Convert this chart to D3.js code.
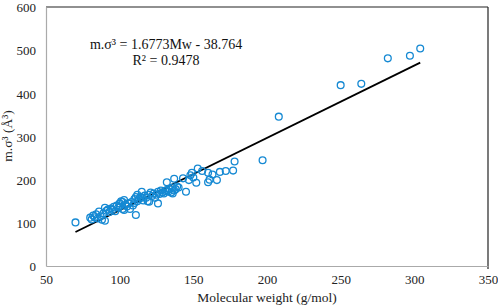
<!DOCTYPE html>
<html>
<head>
<meta charset="utf-8">
<script src="https://cdn.jsdelivr.net/npm/d3@7"></script>
<style>
  body { margin: 0; background: #fff; }
  svg { display: block; font-family: "Liberation Serif", "Times New Roman", serif; }
</style>
</head>
<body>
<svg id="chart" width="498" height="306"></svg>
<script>
// molecular weight (g/mol)
const mw = [
  70, 80, 81, 82, 83, 84, 85, 86, 87, 88, 89, 90, 90, 91, 92, 93, 94, 95, 96, 97,
  98, 99, 100, 100, 101, 102, 102, 103, 103, 104, 105, 106, 107, 108, 109, 110, 110, 111, 111, 112,
  112, 113, 114, 115, 115, 116, 117, 118, 119, 120, 120, 121, 122, 123, 124, 125, 126, 126, 127, 128,
  129, 130, 131, 132, 132, 133, 134, 135, 136, 136, 137, 137, 138, 139, 140, 143, 145, 147, 148, 149,
  150, 152, 153, 156, 160, 160, 161, 163, 166, 168, 172, 177, 178, 197, 208, 250, 264, 282, 297, 304
]
// m.sigma^3 (A^3)
const vol = [
  101, 112, 108, 117, 113, 120, 110, 126, 115, 107, 122, 135, 105, 128, 131, 125, 133, 130, 137, 127,
  140, 135, 145, 138, 150, 132, 148, 153, 130, 142, 138, 145, 132, 148, 140, 155, 146, 160, 118, 165,
  150, 155, 160, 172, 158, 152, 163, 158, 150, 165, 149, 170, 162, 168, 158, 165, 145, 172, 167, 175,
  170, 168, 174, 176, 194, 172, 178, 170, 182, 168, 202, 175, 178, 184, 182, 203, 172, 199, 210, 216,
  205, 193, 226, 220, 216, 194, 200, 212, 199, 218, 220, 221, 242, 245, 346, 419, 422, 481, 487, 504
]
const slope = 1.6773
const intercept = -38.764
const xTicks = [50, 100, 150, 200, 250, 300, 350]
const yTicks = [0, 100, 200, 300, 400, 500, 600]

const svg = d3.select('#chart')
const plotLeft = 46, plotRight = 488, plotTop = 7, plotBottom = 266

const x = d3.scaleLinear().domain([50, 350]).range([plotLeft, plotRight])
const y = d3.scaleLinear().domain([0, 600]).range([plotBottom, plotTop])

// frame
svg.append('line').attr('x1', plotLeft).attr('x2', plotRight).attr('y1', plotTop).attr('y2', plotTop)
  .attr('stroke', '#222').attr('stroke-width', 1.2)
svg.append('line').attr('x1', plotRight).attr('x2', plotRight).attr('y1', plotTop).attr('y2', plotBottom + 3)
  .attr('stroke', '#222').attr('stroke-width', 1.2)

const xAxis = svg.append('g')
  .attr('transform', `translate(0,${plotBottom})`)
  .call(d3.axisBottom(x).tickValues(xTicks).tickSize(0).tickPadding(8))
const yAxis = svg.append('g')
  .attr('transform', `translate(${plotLeft},0)`)
  .call(d3.axisLeft(y).tickValues(yTicks).tickSize(0).tickPadding(10))

svg.selectAll('.domain').attr('stroke', '#aaa').attr('stroke-width', 1.2)
svg.selectAll('.tick text')
  .attr('font-family', '"Liberation Serif", serif')
  .attr('font-size', 13)
  .attr('fill', '#222')
xAxis.selectAll('.tick text').attr('dy', '0.8em')
yAxis.selectAll('.tick text').attr('dy', '0.36em')

// trendline
svg.append('line')
  .attr('x1', x(d3.min(mw))).attr('y1', y(slope * d3.min(mw) + intercept))
  .attr('x2', x(d3.max(mw))).attr('y2', y(slope * d3.max(mw) + intercept))
  .attr('stroke', '#000').attr('stroke-width', 1.8)

// points
svg.append('g').selectAll('circle')
  .data(mw.map((d, i) => ({mw: d, v: vol[i]})))
  .join('circle')
  .attr('cx', d => x(d.mw))
  .attr('cy', d => y(d.v))
  .attr('r', 3.4)
  .attr('fill', 'none')
  .attr('stroke', '#1589d3')
  .attr('stroke-width', 1.3)

// equation
const eq = svg.append('text').attr('text-anchor', 'middle').attr('font-size', 14).attr('fill', '#111')
eq.append('tspan').attr('x', 166).attr('y', 49).text('m.σ³ = 1.6773Mw - 38.764')
eq.append('tspan').attr('x', 166).attr('y', 65).text('R² = 0.9478')

// axis titles
svg.append('text')
  .attr('x', (plotLeft + plotRight) / 2).attr('y', 302)
  .attr('text-anchor', 'middle').attr('font-size', 13.5).attr('fill', '#222')
  .text('Molecular weight (g/mol)')
svg.append('text')
  .attr('transform', 'translate(12,136) rotate(-90)')
  .attr('text-anchor', 'middle').attr('font-size', 13.5).attr('fill', '#222')
  .text('m.σ³ (Å³)')
</script>
</body>
</html>
